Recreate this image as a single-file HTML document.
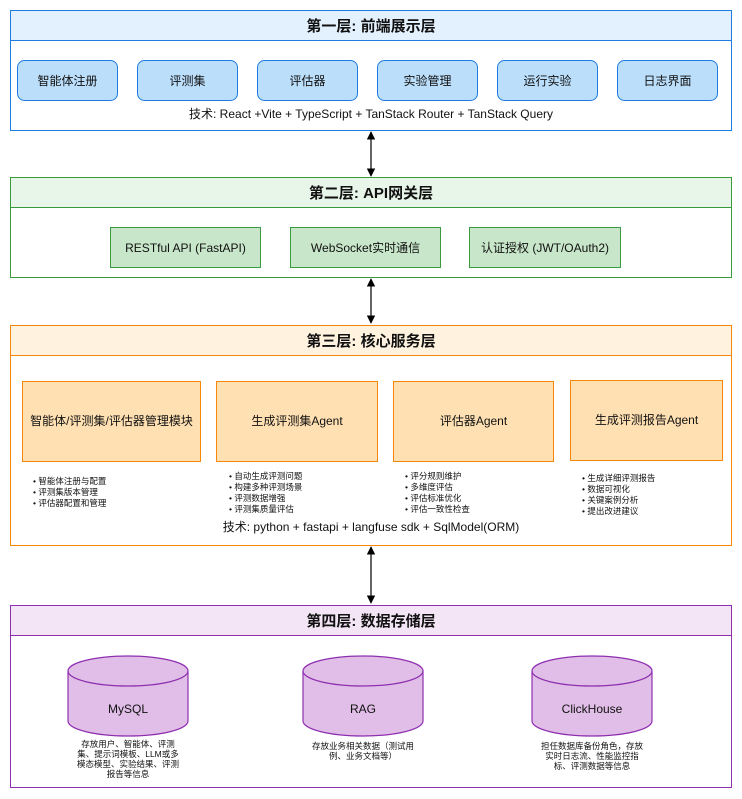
<!DOCTYPE html>
<html><head><meta charset="utf-8"><style>
html,body{margin:0;padding:0;background:#fff}
svg{display:block}
text{font-family:"Liberation Sans","Noto Sans CJK SC",sans-serif;fill:#111}
.h{font-size:15px;font-weight:bold}
.b{font-size:12px}
.s{font-size:8.5px;fill:#333}
</style></head><body>
<svg width="742" height="799" viewBox="0 0 742 799" xmlns="http://www.w3.org/2000/svg">
<defs>
<marker id="a" viewBox="0 0 10 10" refX="9" refY="5" markerWidth="7" markerHeight="7" orient="auto-start-reverse"><path d="M0,0 L10,5 L0,10 z" fill="#000"/></marker>
</defs>
<!-- Layer 1 -->
<rect x="10.5" y="10.5" width="721" height="120" fill="#fff" stroke="#1e7be0"/>
<rect x="10.5" y="10.5" width="721" height="30" fill="#e3f0fd" stroke="#1e7be0"/>
<text class="h" x="371" y="31" text-anchor="middle">第一层: 前端展示层</text>
<g fill="#bbdefb" stroke="#1e7be0">
<rect x="17.5" y="60.5" width="100" height="40" rx="7"/>
<rect x="137.5" y="60.5" width="100" height="40" rx="7"/>
<rect x="257.5" y="60.5" width="100" height="40" rx="7"/>
<rect x="377.5" y="60.5" width="100" height="40" rx="7"/>
<rect x="497.5" y="60.5" width="100" height="40" rx="7"/>
<rect x="617.5" y="60.5" width="100" height="40" rx="7"/>
</g>
<g class="b" text-anchor="middle">
<text x="67.5" y="85">智能体注册</text><text x="187.5" y="85">评测集</text><text x="307.5" y="85">评估器</text>
<text x="427.5" y="85">实验管理</text><text x="547.5" y="85">运行实验</text><text x="667.5" y="85">日志界面</text>
<text x="371" y="118">技术: React +Vite + TypeScript + TanStack Router + TanStack Query</text>
</g>
<line x1="371" y1="132" x2="371" y2="176" stroke="#000" stroke-width="1.2" marker-start="url(#a)" marker-end="url(#a)"/>
<!-- Layer 2 -->
<rect x="10.5" y="177.5" width="721" height="100" fill="#fff" stroke="#3a9a3e"/>
<rect x="10.5" y="177.5" width="721" height="30" fill="#e8f5e9" stroke="#3a9a3e"/>
<text class="h" x="371" y="198" text-anchor="middle">第二层: API网关层</text>
<g fill="#c8e6c9" stroke="#3a9a3e">
<rect x="110.5" y="227.5" width="150" height="40"/>
<rect x="290.5" y="227.5" width="150" height="40"/>
<rect x="469.5" y="227.5" width="151" height="40"/>
</g>
<g class="b" text-anchor="middle">
<text x="185.5" y="252">RESTful API (FastAPI)</text><text x="365.5" y="252">WebSocket实时通信</text><text x="545" y="252">认证授权 (JWT/OAuth2)</text>
</g>
<line x1="371" y1="279" x2="371" y2="323" stroke="#000" stroke-width="1.2" marker-start="url(#a)" marker-end="url(#a)"/>
<!-- Layer 3 -->
<rect x="10.5" y="325.5" width="721" height="220" fill="#fff" stroke="#f5870a"/>
<rect x="10.5" y="325.5" width="721" height="30" fill="#fff3e0" stroke="#f5870a"/>
<text class="h" x="371" y="346" text-anchor="middle">第三层: 核心服务层</text>
<g fill="#ffe0b2" stroke="#f5870a">
<rect x="22.5" y="381.5" width="178" height="80"/>
<rect x="216.5" y="381.5" width="161" height="80"/>
<rect x="393.5" y="381.5" width="160" height="80"/>
<rect x="570.5" y="380.5" width="152" height="80"/>
</g>
<g class="b" text-anchor="middle">
<text x="111.5" y="425">智能体/评测集/评估器管理模块</text><text x="297" y="425">生成评测集Agent</text>
<text x="473.5" y="425">评估器Agent</text><text x="646.5" y="424">生成评测报告Agent</text>
</g>
<g class="s">
<text x="33" y="484">• 智能体注册与配置</text><text x="33" y="495">• 评测集版本管理</text><text x="33" y="506">• 评估器配置和管理</text>
<text x="229" y="479">• 自动生成评测问题</text><text x="229" y="490">• 构建多种评测场景</text><text x="229" y="501">• 评测数据增强</text><text x="229" y="512">• 评测集质量评估</text>
<text x="405" y="479">• 评分规则维护</text><text x="405" y="490">• 多维度评估</text><text x="405" y="501">• 评估标准优化</text><text x="405" y="512">• 评估一致性检查</text>
<text x="582" y="481">• 生成详细评测报告</text><text x="582" y="492">• 数据可视化</text><text x="582" y="503">• 关键案例分析</text><text x="582" y="514">• 提出改进建议</text>
</g>
<text class="b" x="371" y="531" text-anchor="middle">技术: python + fastapi + langfuse sdk + SqlModel(ORM)</text>
<line x1="371" y1="547" x2="371" y2="603" stroke="#000" stroke-width="1.2" marker-start="url(#a)" marker-end="url(#a)"/>
<!-- Layer 4 -->
<rect x="10.5" y="605.5" width="721" height="182" fill="#fff" stroke="#8e2fb0"/>
<rect x="10.5" y="605.5" width="721" height="30" fill="#f3e5f5" stroke="#8e2fb0"/>
<text class="h" x="371" y="626" text-anchor="middle">第四层: 数据存储层</text>
<g fill="#e1bee7" stroke="#8e2fb0" stroke-width="1.2">
<path d="M68,671 A60,15 0 0 1 188,671 L188,721 A60,15 0 0 1 68,721 Z"/><path d="M68,671 A60,15 0 0 0 188,671" fill="none"/>
<path d="M303,671 A60,15 0 0 1 423,671 L423,721 A60,15 0 0 1 303,721 Z"/><path d="M303,671 A60,15 0 0 0 423,671" fill="none"/>
<path d="M532,671 A60,15 0 0 1 652,671 L652,721 A60,15 0 0 1 532,721 Z"/><path d="M532,671 A60,15 0 0 0 652,671" fill="none"/>
</g>
<g class="b" text-anchor="middle">
<text x="128" y="713">MySQL</text><text x="363" y="713">RAG</text><text x="592" y="713">ClickHouse</text>
</g>
<g class="s" text-anchor="middle">
<text x="128" y="747">存放用户、智能体、评测</text><text x="128" y="757">集、提示词模板、LLM或多</text><text x="128" y="767">模态模型、实验结果、评测</text><text x="128" y="777">报告等信息</text>
<text x="363" y="749">存放业务相关数据（测试用</text><text x="363" y="759">例、业务文档等）</text>
<text x="592" y="749">担任数据库备份角色，存放</text><text x="592" y="759">实时日志流、性能监控指</text><text x="592" y="769">标、评测数据等信息</text>
</g>
</svg>
</body></html>
